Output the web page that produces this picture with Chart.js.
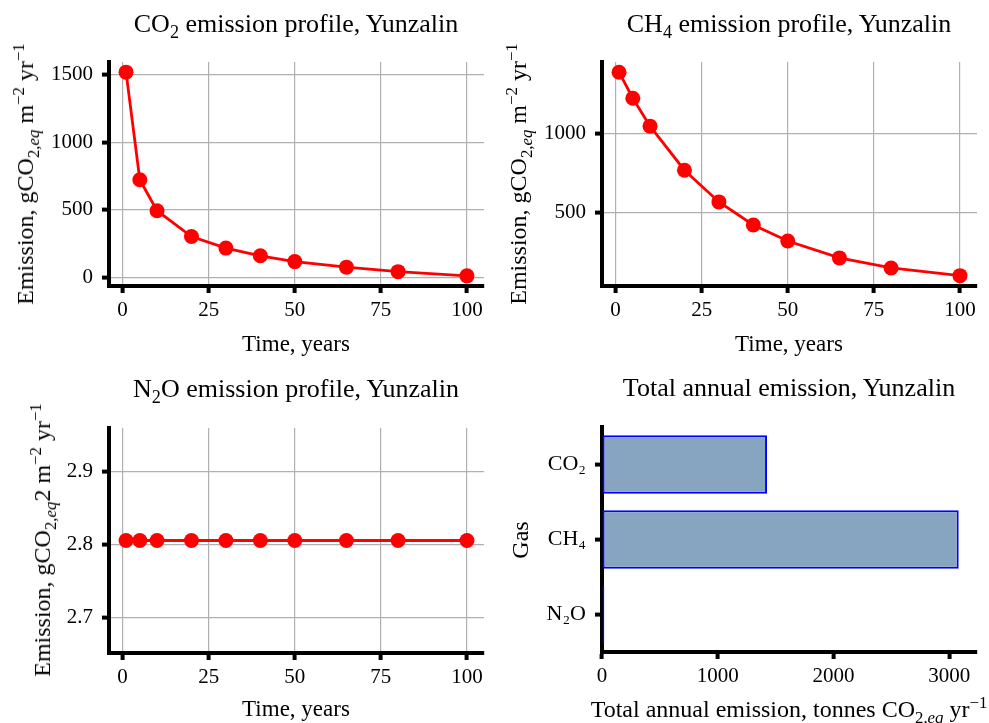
<!DOCTYPE html>
<html lang="en">
<head>
<meta charset="UTF-8">
<title>Emission profiles, Yunzalin</title>
<script src="https://cdn.jsdelivr.net/npm/chart.js@4.4.1/dist/chart.umd.min.js"></script>
<style>
  body {
    margin: 0;
    padding: 0;
    background: #fff;
  }
  #page {
    position: relative;
    width: 989px;
    height: 723px;
    overflow: hidden;
  }
  canvas {
    position: absolute;
  }
  .lbl {
    position: absolute;
    transform: translate(-50%, -50%);
    white-space: nowrap;
    font-family: 'Liberation Serif', serif;
    font-size: 23px;
    line-height: 1;
    color: #000;
  }
  .ttl {
    font-size: 26px;
  }
  .big {
    font-size: 24px;
  }
  .rot {
    transform: translate(-50%, -50%) rotate(-90deg);
  }
  sub, sup {
    font-size: 70%;
    line-height: 0;
  }
</style>
</head>
<body>
<div id="page">
  <canvas id="c1" width="495" height="360" style="left:0;top:0"></canvas>
  <canvas id="c2" width="494" height="360" style="left:495px;top:0"></canvas>
  <canvas id="c3" width="495" height="363" style="left:0;top:360px"></canvas>
  <canvas id="c4" width="494" height="363" style="left:495px;top:360px"></canvas>

  <div class="lbl ttl" style="left:296px;top:24px">CO<sub>2</sub> emission profile, Yunzalin</div>
  <div class="lbl ttl" style="left:789px;top:24px">CH<sub>4</sub> emission profile, Yunzalin</div>
  <div class="lbl ttl" style="left:296px;top:389px">N<sub>2</sub>O emission profile, Yunzalin</div>
  <div class="lbl ttl" style="left:789px;top:388px">Total annual emission, Yunzalin</div>

  <div class="lbl" style="left:296px;top:343px">Time, years</div>
  <div class="lbl" style="left:789px;top:343px">Time, years</div>
  <div class="lbl" style="left:296px;top:708px">Time, years</div>
  <div class="lbl big" style="left:789px;top:709px">Total annual emission, tonnes CO<sub>2,<i>eq</i></sub> yr<sup>−1</sup></div>

  <div class="lbl big rot" style="left:25px;top:174px">Emission, gCO<sub>2,<i>eq</i></sub> m<sup>−2</sup> yr<sup>−1</sup></div>
  <div class="lbl big rot" style="left:518px;top:174px">Emission, gCO<sub>2,<i>eq</i></sub> m<sup>−2</sup> yr<sup>−1</sup></div>
  <div class="lbl big rot" style="left:42px;top:540px">Emission, gCO<sub>2,<i>eq</i></sub>2 m<sup>−2</sup> yr<sup>−1</sup></div>
  <div class="lbl big rot" style="left:520px;top:540px">Gas</div>
</div>
<script>
  // values
  var years = [1, 5, 10, 20, 30, 40, 50, 65, 80, 100];
  var co2Emission = [1517, 723, 494, 303, 218, 161, 118, 77, 44, 13];
  var ch4Emission = [1393, 1227, 1049, 768, 566, 419, 317, 209, 145, 96];
  var n2oEmission = [2.806, 2.806, 2.806, 2.806, 2.806, 2.806, 2.806, 2.806, 2.806, 2.806];
  var gases = ['CO₂', 'CH₄', 'N₂O'];
  var totalAnnual = [1426, 3082, 20];

  var yearTicks = [0, 25, 50, 75, 100];
  var co2Ticks = [0, 500, 1000, 1500];
  var ch4Ticks = [500, 1000];
  var n2oTicks = [2.7, 2.8, 2.9];
  var totalTicks = [0, 1000, 2000, 3000];

  Chart.defaults.font.family = "'Liberation Serif', serif";
  Chart.defaults.font.size = 21;
  Chart.defaults.color = '#000';

  function fixedTicks(list) {
    return function (scale) {
      scale.ticks = list.map(function (v) { return { value: v }; });
    };
  }

  function gridOpts(onArea) {
    return {
      drawOnChartArea: onArea,
      offset: false,
      color: '#b0b0b0',
      lineWidth: 1.2,
      tickColor: '#000',
      tickWidth: 4,
      tickLength: 7
    };
  }

  var border = { display: true, color: '#000', width: 4 };

  // box: chart area inside the canvas [left, top, right, bottom]
  function layoutFor(canvas, box) {
    return {
      padding: {
        left: 0,
        top: box[1],
        right: canvas.width - box[2],
        bottom: canvas.height - box[3] - 40
      }
    };
  }

  function lineChart(id, values, box, yMin, yMax, yTicks, fmt) {
    var canvas = document.getElementById(id);
    var pts = years.map(function (x, i) { return { x: x, y: values[i] }; });
    return new Chart(canvas, {
      type: 'line',
      data: {
        datasets: [{
          data: pts,
          borderColor: '#ff0000',
          backgroundColor: '#ff0000',
          borderWidth: 2.8,
          pointRadius: 7.5,
          pointBorderWidth: 0,
          pointBackgroundColor: '#ff0000',
          tension: 0,
          fill: false
        }]
      },
      options: {
        responsive: false,
        animation: false,
        devicePixelRatio: 1,
        layout: layoutFor(canvas, box),
        plugins: { legend: { display: false }, tooltip: { enabled: false } },
        scales: {
          x: {
            type: 'linear',
            min: -3.95,
            max: 104.95,
            border: border,
            grid: gridOpts(true),
            afterBuildTicks: fixedTicks(yearTicks),
            afterFit: function (s) { s.height = 40; },
            ticks: { padding: 5, maxRotation: 0, callback: function (v) { return String(v); } }
          },
          y: {
            type: 'linear',
            min: yMin,
            max: yMax,
            border: border,
            grid: gridOpts(true),
            afterBuildTicks: fixedTicks(yTicks),
            afterFit: function (s) { s.width = box[0]; },
            ticks: {
              padding: 9,
              callback: function (v) { return fmt ? fmt(v) : String(v); }
            }
          }
        }
      }
    });
  }

  lineChart('c1', co2Emission, [109, 62, 484, 286], -62, 1592, co2Ticks);
  lineChart('c2', ch4Emission, [107, 62, 482, 286], 30, 1458, ch4Ticks);
  lineChart('c3', n2oEmission, [109, 68, 484, 293], 2.652, 2.960, n2oTicks,
    function (v) { return v.toFixed(1); });

  var c4 = document.getElementById('c4');
  new Chart(c4, {
    type: 'bar',
    data: {
      labels: gases,
      datasets: [{
        data: totalAnnual,
        backgroundColor: '#87a4c1',
        borderColor: '#0000ff',
        borderWidth: 2,
        borderSkipped: false,
        categoryPercentage: 0.78,
        barPercentage: 1
      }]
    },
    options: {
      indexAxis: 'y',
      responsive: false,
      animation: false,
      devicePixelRatio: 1,
      layout: layoutFor(c4, [107, 67, 482, 292]),
      plugins: { legend: { display: false }, tooltip: { enabled: false } },
      scales: {
        x: {
          type: 'linear',
          min: 0,
          max: 3240,
          border: border,
          grid: gridOpts(false),
          afterBuildTicks: fixedTicks(totalTicks),
          afterFit: function (s) { s.height = 40; },
          ticks: { padding: 5, maxRotation: 0, callback: function (v) { return String(v); } }
        },
        y: {
          type: 'category',
          border: border,
          grid: gridOpts(false),
          afterFit: function (s) { s.width = 107; },
          ticks: { padding: 9, font: { size: 22 } }
        }
      }
    }
  });
</script>
</body>
</html>
